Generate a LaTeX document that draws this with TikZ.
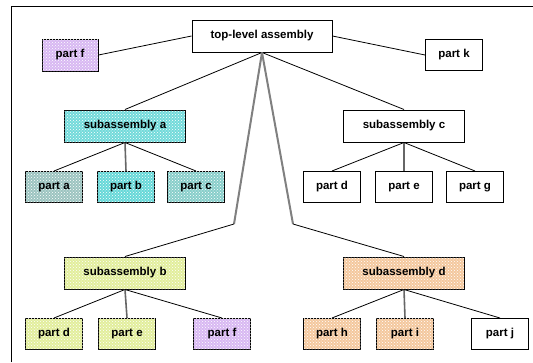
\documentclass[tikz,border=0pt]{standalone}
\usepackage{fontspec}
\setmainfont{Liberation Sans}
\usetikzlibrary{patterns}
\definecolor{cyanA}{HTML}{72DADA}
\definecolor{cyanGray}{HTML}{9CC4C0}
\definecolor{cyanB}{HTML}{66D8D8}
\definecolor{cyanC}{HTML}{88CECA}
\definecolor{limeWave}{HTML}{E2EE9C}
\definecolor{lilac}{HTML}{D8B8F2}
\definecolor{peach}{HTML}{F4C89E}
\tikzset{
  box/.style={draw=black, line width=1pt, fill=white, inner sep=0pt,
    font=\fontsize{11.5}{12}\selectfont\bfseries, text=black},
  sub/.style={box, minimum width=121pt, minimum height=32pt},
  leaf/.style={box, minimum width=57pt, minimum height=31pt},
  speckled/.style={fill=#1, postaction={pattern=crosshatch dots, pattern color=white}},
  link/.style={draw=black, line width=0.8pt},
  stem/.style={draw=black!60, line width=1.6pt},
  trunk/.style={draw=black!50, line width=2pt}
}
\begin{document}
\begin{tikzpicture}[x=1pt, y=-1pt]
\useasboundingbox (0,0) rectangle (533,362);
% frame
\draw[line width=1pt] (11,362) -- (11,6) -- (533,6);

% top level
\node[box, minimum width=140pt, minimum height=32pt] (top) at (262,36) {top-level assembly};
\node[leaf, speckled=lilac, minimum width=56pt, minimum height=32pt] (pf1) at (70,55) {part f};
\node[leaf] (pk) at (454,55) {part k};

% subassembly a
\node[sub, speckled=cyanA] (sa) at (125,126) {subassembly a};
\node[leaf, speckled=cyanGray] (pa) at (54,187) {part a};
\node[leaf, speckled=cyanB] (pb) at (126,187) {part b};
\node[leaf, speckled=cyanC] (pc) at (196,187) {part c};

% subassembly c
\node[sub] (sc) at (404,126) {subassembly c};
\node[leaf] (pd1) at (332,187) {part d};
\node[leaf] (pe1) at (404,187) {part e};
\node[leaf] (pg) at (475,187) {part g};

% subassembly b
\node[sub, speckled=limeWave] (sb) at (125,273) {subassembly b};
\node[leaf, speckled=limeWave] (pd2) at (54,334) {part d};
\node[leaf, speckled=limeWave] (pe2) at (127,334) {part e};
\node[leaf, speckled=lilac] (pf2) at (222,334) {part f};

% subassembly d
\node[sub, speckled=peach] (sd) at (404,273) {subassembly d};
\node[leaf, speckled=peach] (ph) at (332,334) {part h};
\node[leaf, speckled=peach] (pi) at (405,334) {part i};
\node[leaf] (pj) at (500,334) {part j};

% bends of the long connectors
\coordinate (bl) at (234,224);
\coordinate (br) at (293,224);

% connectors
\draw[link] (top.west) -- (pf1.east);
\draw[link] (top.east) -- (pk.west);
\draw[link] (top.south) -- (sa.north);
\draw[link] (top.south) -- (sc.north);
\draw[trunk] (top.south) -- (bl);
\draw[trunk] (top.south) -- (br);
\draw[link] (bl) -- (sb.north);
\draw[link] (br) -- (sd.north);

\draw[link] (sa.south) -- (pa.north);
\draw[stem] (sa.south) -- (pb.north);
\draw[link] (sa.south) -- (pc.north);

\draw[link] (sc.south) -- (pd1.north);
\draw[stem] (sc.south) -- (pe1.north);
\draw[link] (sc.south) -- (pg.north);

\draw[link] (sb.south) -- (pd2.north);
\draw[stem] (sb.south) -- (pe2.north);
\draw[link] (sb.south) -- (pf2.north);

\draw[link] (sd.south) -- (ph.north);
\draw[stem] (sd.south) -- (pi.north);
\draw[link] (sd.south) -- (pj.north);
\end{tikzpicture}
\end{document}
